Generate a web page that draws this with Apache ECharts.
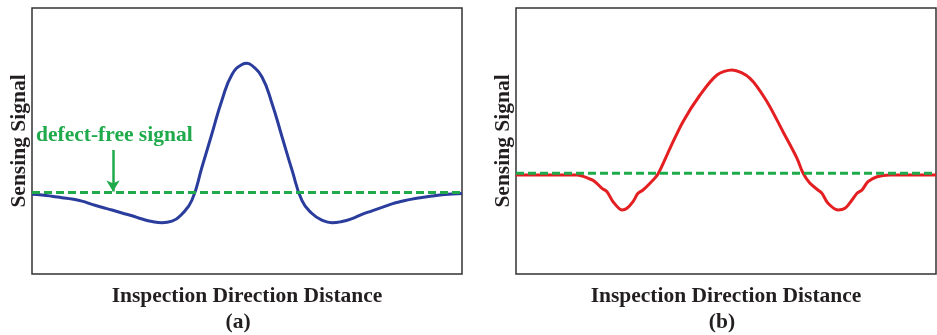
<!DOCTYPE html>
<html>
<head>
<meta charset="utf-8">
<script src="https://cdn.jsdelivr.net/npm/echarts@6/dist/echarts.min.js"></script>
<style>html,body{margin:0;padding:0;background:#fff;}#c{width:937px;height:335px;}</style>
</head>
<body>
<div id="c"></div>
<script>
// Panel (a): sensing signal along inspection direction (arbitrary units)
const xA = [0, 10, 20, 30, 40, 50, 60, 70, 80, 90, 100, 110, 120, 130, 140, 150, 160, 170, 180, 190, 200, 210, 215, 220, 230, 240, 250, 260, 270, 280, 290, 300, 310, 320, 330, 340, 350, 360, 370, 380, 390, 400, 410, 420, 430];
const yA = [79.7, 79.0, 77.8, 76.3, 74.9, 72.9, 69.6, 66.7, 64.0, 61.0, 58.3, 55.0, 52.5, 51.3, 52.8, 60.0, 74.0, 107, 140.5, 174, 199.5, 209.5, 210.7, 208.5, 197, 170.6, 137.3, 104, 73.3, 60.5, 53.8, 51.3, 52.5, 55.4, 59.7, 63.2, 66.6, 70.1, 72.7, 74.9, 76.5, 78.0, 79.2, 79.9, 80.5];
const baseA = 81.5;
// Panel (b)
const xB = [0, 34, 61, 74, 79, 86, 91, 97, 106, 111, 117, 122, 127, 134, 142, 154, 167, 184, 201, 216, 234, 251, 267, 281, 287, 294, 302, 306, 312, 322, 329, 336, 341, 346, 352, 361, 374, 394, 420];
const yB = [99, 99, 99, 95, 92.3, 85.7, 82.3, 72.3, 64, 65.7, 72.3, 80.7, 84, 90.7, 100, 125.7, 152.3, 179, 199, 204, 195.7, 172.3, 142.3, 115.7, 101, 90.7, 84, 80.7, 70.7, 64, 65.7, 74, 80.7, 84, 92.3, 97.3, 99, 99, 99];
const baseB = 100.7;
const xMaxA = 430, xMaxB = 420, yMax = 266;
const arrowX = 81, arrowTop = 124;

const FONT = '"Liberation Serif", "Times New Roman", serif';
const GREEN = '#1faa4b', BLUE = '#2b3d9c', RED = '#e41f22', INK = '#231f20';
const FS = 21.5;

function pairs(xs, ys) { return xs.map((x, i) => [x, ys[i]]); }

function xAx(idx, max) {
  return {
    type: 'value', gridIndex: idx, min: 0, max: max,
    name: 'Inspection Direction Distance', nameLocation: 'middle', nameGap: 11,
    nameTextStyle: { fontFamily: FONT, fontWeight: 'bold', fontSize: FS, color: INK },
    axisLine: { show: false }, axisTick: { show: false }, axisLabel: { show: false }, splitLine: { show: false }
  };
}
function yAx(idx) {
  return {
    type: 'value', gridIndex: idx, min: 0, max: yMax,
    name: 'Sensing Signal', nameLocation: 'middle', nameGap: 2, nameRotate: 90,
    nameTextStyle: { fontFamily: FONT, fontWeight: 'bold', fontSize: FS, color: INK },
    axisLine: { show: false }, axisTick: { show: false }, axisLabel: { show: false }, splitLine: { show: false }
  };
}

const chart = echarts.init(document.getElementById('c'));
chart.setOption({
  animation: false,
  backgroundColor: '#fff',
  grid: [
    { left: 32, top: 8, width: 430, height: 266, show: true, borderColor: '#333', borderWidth: 1.5, backgroundColor: 'transparent' },
    { left: 516, top: 8, width: 420, height: 266, show: true, borderColor: '#333', borderWidth: 1.5, backgroundColor: 'transparent' }
  ],
  xAxis: [xAx(0, xMaxA), xAx(1, xMaxB)],
  yAxis: [yAx(0), yAx(1)],
  series: [
    { type: 'line', xAxisIndex: 0, yAxisIndex: 0, data: pairs(xA, yA), smooth: 0.5, showSymbol: false,
      lineStyle: { color: BLUE, width: 3 } },
    { type: 'line', xAxisIndex: 0, yAxisIndex: 0, data: [[0, baseA], [xMaxA, baseA]], showSymbol: false,
      lineStyle: { color: GREEN, width: 3, type: [8, 4] },
      markLine: { silent: true, symbol: ['none', 'arrow'], symbolSize: [10, 11], label: { show: false },
        lineStyle: { color: GREEN, width: 2.5, type: 'solid' },
        data: [[{ coord: [arrowX, arrowTop] }, { coord: [arrowX, baseA + 1] }]] } },
    { type: 'line', xAxisIndex: 1, yAxisIndex: 1, data: pairs(xB, yB), smooth: 0.3, showSymbol: false,
      lineStyle: { color: RED, width: 3 } },
    { type: 'line', xAxisIndex: 1, yAxisIndex: 1, data: [[0, baseB], [xMaxB, baseB]], showSymbol: false,
      lineStyle: { color: GREEN, width: 3, type: [8, 4] } }
  ],
  graphic: [
    { type: 'text', x: 36, y: 135, style: { text: 'defect-free signal', fontFamily: FONT, fontWeight: 'bold', fontSize: FS, fill: GREEN, align: 'left', verticalAlign: 'middle' } },
    { type: 'text', x: 238, y: 322, style: { text: '(a)', fontFamily: FONT, fontWeight: 'bold', fontSize: FS, fill: INK, align: 'center', verticalAlign: 'middle' } },
    { type: 'text', x: 722, y: 322, style: { text: '(b)', fontFamily: FONT, fontWeight: 'bold', fontSize: FS, fill: INK, align: 'center', verticalAlign: 'middle' } }
  ]
});
</script>
</body>
</html>
